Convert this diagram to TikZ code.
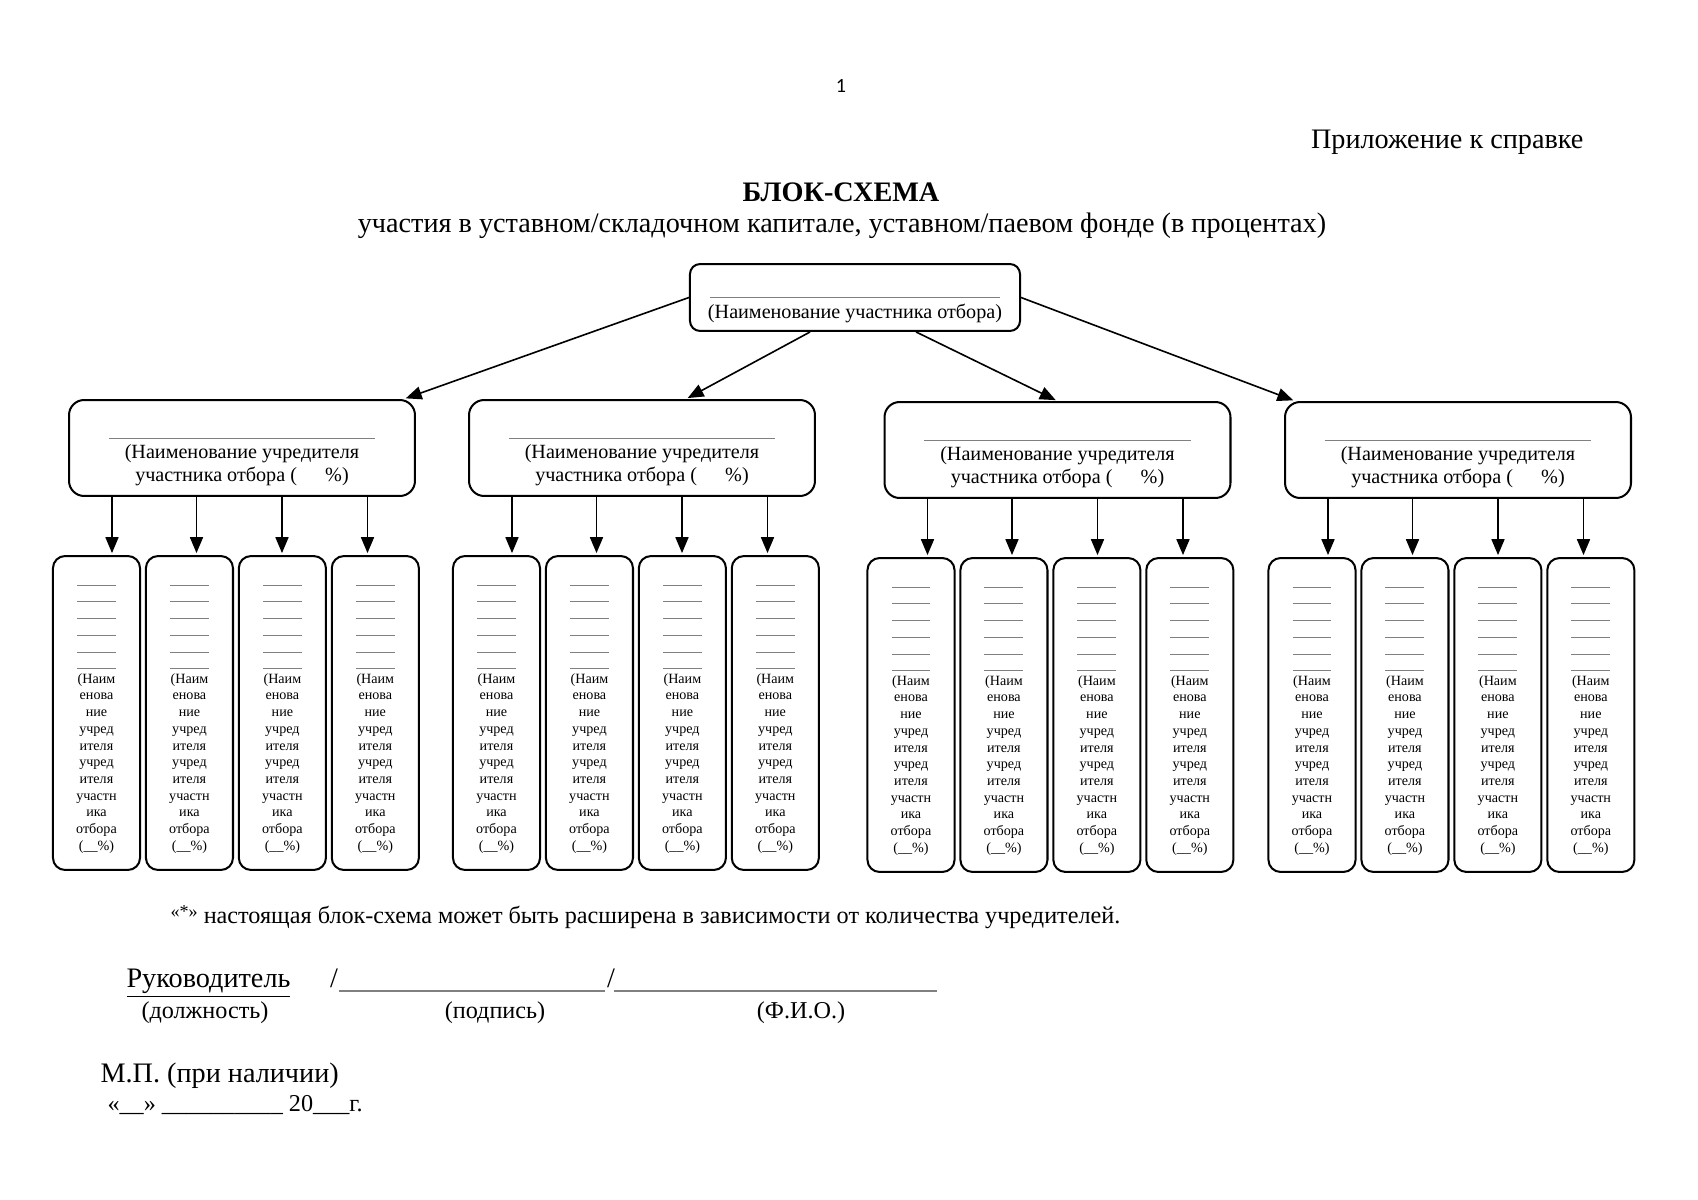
\documentclass[tikz,border=0pt]{standalone}
\usepackage{fontspec}
\usepackage{tikz}
\usetikzlibrary{arrows,positioning}
\setmainfont{Liberation Serif}
\newfontfamily\pagefont{Carlito}
\newcommand{\gline}{\textcolor{gray}{\rule[1.5pt]{19.3pt}{0.5pt}}}
\newcommand{\uchr}{\rule{0pt}{8pt}\gline\\\gline\\\gline\\\gline\\\gline\\\gline\\[-3pt](Наим\\енова\\ние\\учред\\ителя\\учред\\ителя\\участн\\ика\\отбора\\(\_\_\%)}
\tikzstyle{head}    = [draw,line width=1pt,rounded corners=5pt,inner sep=0pt,minimum width=163.7pt,minimum height=33.2pt,align=center,font=\fontsize{10}{11}\selectfont]
\tikzstyle{founder} = [draw,line width=1pt,rounded corners=7.5pt,inner sep=0pt,minimum width=171.6pt,minimum height=47.6pt,align=center,font=\fontsize{10}{11}\selectfont]
\tikzstyle{sub}     = [draw,line width=1pt,rounded corners=6pt,inner sep=0pt,minimum width=43.2pt,minimum height=155.7pt,align=center,font=\fontsize{7}{8.3}\selectfont]
\tikzstyle{sign}    = [-,gray,line width=0.6pt]

\begin{document}
\begin{tikzpicture}[->,>=triangle 45,shorten >=1pt,x=0.496pt,y=-0.496pt,node distance=46.1pt,thick]
\useasboundingbox (0,0) rectangle (1698,1200);

% header
\node[font=\pagefont\fontsize{10}{12}\selectfont] (page) at (841,86) {1};
\node[anchor=east,font=\fontsize{14}{16}\selectfont] (annex) at (1591,142) {Приложение к справке};
\node[font=\bfseries\fontsize{14}{16}\selectfont] (title) at (841,192) {БЛОК-СХЕМА};
\node[font=\fontsize{14}{16}\selectfont] (subtitle) at (842,226) {участия в уставном/складочном капитале, уставном/паевом фонде (в процентах)};

% participant and founders
\node[head] (part) at (855,297.5) {\rule{0pt}{13pt}\textcolor{gray}{\rule{144.3pt}{0.5pt}}\\[-1pt](Наименование участника отбора)};
\node[founder] (f1) at (242,448)    {\rule{0pt}{14pt}\textcolor{gray}{\rule{132.4pt}{0.5pt}}\\[-1pt](Наименование учредителя\\участника отбора (\hspace{1.4em}\%)};
\node[founder] (f2) at (642,448)    {\rule{0pt}{14pt}\textcolor{gray}{\rule{132.4pt}{0.5pt}}\\[-1pt](Наименование учредителя\\участника отбора (\hspace{1.4em}\%)};
\node[founder] (f3) at (1057.5,450) {\rule{0pt}{14pt}\textcolor{gray}{\rule{132.4pt}{0.5pt}}\\[-1pt](Наименование учредителя\\участника отбора (\hspace{1.4em}\%)};
\node[founder] (f4) at (1458,450)   {\rule{0pt}{14pt}\textcolor{gray}{\rule{132.4pt}{0.5pt}}\\[-1pt](Наименование учредителя\\участника отбора (\hspace{1.4em}\%)};

% founders of founders
\node[sub] (s11) at (96.5,713) {\uchr};
\node[sub] (s12) [right of=s11] {\uchr};
\node[sub] (s13) [right of=s12] {\uchr};
\node[sub] (s14) [right of=s13] {\uchr};
\node[sub] (s21) at (496.5,713) {\uchr};
\node[sub] (s22) [right of=s21] {\uchr};
\node[sub] (s23) [right of=s22] {\uchr};
\node[sub] (s24) [right of=s23] {\uchr};
\node[sub] (s31) at (911,715) {\uchr};
\node[sub] (s32) [right of=s31] {\uchr};
\node[sub] (s33) [right of=s32] {\uchr};
\node[sub] (s34) [right of=s33] {\uchr};
\node[sub] (s41) at (1312,715) {\uchr};
\node[sub] (s42) [right of=s41] {\uchr};
\node[sub] (s43) [right of=s42] {\uchr};
\node[sub] (s44) [right of=s43] {\uchr};

\path
    (part.west)                 edge ([xshift=-6pt]f1.north east)
    ([xshift=-22.3pt]part.south) edge ([xshift=21.8pt]f2.north)
    ([xshift=30.3pt]part.south)  edge (f3.north)
    (part.east)                 edge ([xshift=5.5pt]f4.north west);

\foreach \g in {1,...,4}
  \foreach \k/\o in {1/-130,2/-45.5,3/40,4/125.5} {
    \coordinate (a) at ([xshift=\o*0.496pt]f\g.south);
    \path (a) edge (a |- s\g\k.north);
  }

% footer
\node[anchor=west,font=\fontsize{12}{14}\selectfont] (note) at (163,917) {{\fontsize{9}{9}\selectfont\raisebox{3pt}{«*»}} настоящая блок-схема может быть расширена в зависимости от количества учредителей.};
\node[anchor=base west,font=\fontsize{14}{16}\selectfont] (head) at (119,987) {\underline{Руководитель}};
\node[anchor=base,font=\fontsize{14}{16}\selectfont] (sl1) at (334,987) {/};
\node[anchor=base,font=\fontsize{14}{16}\selectfont] (sl2) at (611,987) {/};
\draw[sign] (339,991) -- (607,991);
\draw[sign] (614,991) -- (939,991);
\node[font=\fontsize{12}{14}\selectfont] (post) at (205,1013) {(должность)};
\node[font=\fontsize{12}{14}\selectfont] (signat) at (495,1013) {(подпись)};
\node[font=\fontsize{12}{14}\selectfont] (fio) at (801,1013) {(Ф.И.О.)};
\node[anchor=base west,font=\fontsize{14}{16}\selectfont] (stamp) at (93,1082) {М.П. (при наличии)};
\node[anchor=base west,font=\fontsize{12}{14}\selectfont] (date) at (100,1111) {«\_\_» \_\_\_\_\_\_\_\_\_\_ 20\_\_\_г.};

\end{tikzpicture}
\end{document}
